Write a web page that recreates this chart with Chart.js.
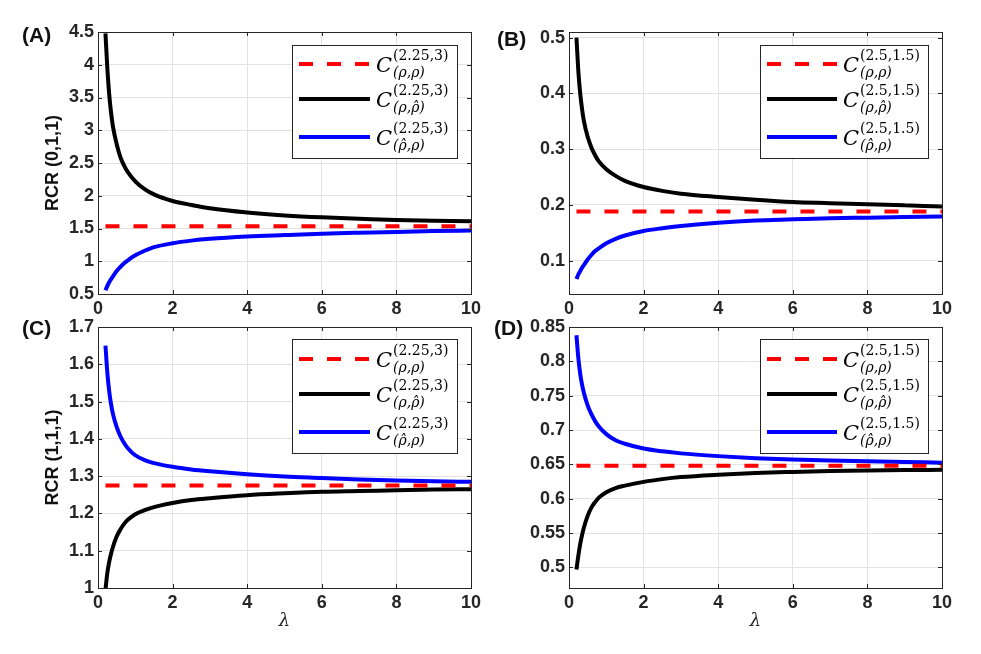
<!DOCTYPE html>
<html>
<head>
<meta charset="utf-8">
<title>RCR vs lambda</title>
<script src="https://cdn.jsdelivr.net/npm/chart.js@4.4.1/dist/chart.umd.min.js"></script>
<style>
  html, body { margin: 0; padding: 0; background: #fff; }
  #wrap { position: relative; width: 981px; height: 654px; }
  #wrap canvas { position: absolute; left: 0; top: 0; }
</style>
</head>
<body>
<div id="wrap">
  <canvas id="chartA" width="981" height="654"></canvas>
  <canvas id="chartB" width="981" height="654"></canvas>
  <canvas id="chartC" width="981" height="654"></canvas>
  <canvas id="chartD" width="981" height="654"></canvas>
</div>
<script>
// lambda values the curves were read at
const lambda = [0.2, 0.25, 0.3, 0.35, 0.4, 0.5, 0.6, 0.7, 0.8, 1, 1.25, 1.5, 2, 2.5, 3, 4, 5, 6, 7, 8, 9, 10];
const lambdaEnds = [0.2, 10];
const xTicks = [0, 2, 4, 6, 8, 10];

// (A) RCR (0,1,1), (2.25,3)
const redA = [1.535, 1.535];
const blackA = [4.48, 3.95, 3.55, 3.27, 3.06, 2.79, 2.59, 2.46, 2.36, 2.22, 2.1, 2.02, 1.92, 1.86, 1.81, 1.745, 1.7, 1.67, 1.65, 1.63, 1.62, 1.61];
const blueA = [0.556, 0.625, 0.68, 0.727, 0.768, 0.85, 0.915, 0.97, 1.015, 1.09, 1.16, 1.215, 1.275, 1.315, 1.343, 1.378, 1.4, 1.42, 1.435, 1.448, 1.46, 1.47];
const yTicksA = [0.5, 1, 1.5, 2, 2.5, 3, 3.5, 4, 4.5];

// (B) RCR (0,1,1), (2.5,1.5)
const redB = [0.188, 0.188];
const blackB = [0.5, 0.44, 0.4, 0.372, 0.35, 0.322, 0.303, 0.289, 0.278, 0.264, 0.252, 0.243, 0.232, 0.225, 0.22, 0.214, 0.209, 0.205, 0.203, 0.201, 0.199, 0.197];
const blueB = [0.067, 0.075, 0.081, 0.087, 0.092, 0.102, 0.11, 0.117, 0.122, 0.131, 0.139, 0.145, 0.153, 0.158, 0.162, 0.168, 0.172, 0.174, 0.176, 0.177, 0.178, 0.179];
const yTicksB = [0.1, 0.2, 0.3, 0.4, 0.5];

// (C) RCR (1,1,1), (2.25,3)
const redC = [1.275, 1.275];
const blackC = [0.995, 1.04, 1.07, 1.092, 1.11, 1.138, 1.157, 1.172, 1.183, 1.198, 1.209, 1.217, 1.228, 1.236, 1.241, 1.249, 1.254, 1.258, 1.26, 1.262, 1.264, 1.265];
const blueC = [1.65, 1.578, 1.528, 1.493, 1.467, 1.432, 1.407, 1.389, 1.375, 1.356, 1.343, 1.335, 1.325, 1.318, 1.313, 1.305, 1.299, 1.295, 1.291, 1.288, 1.286, 1.285];
const yTicksC = [1, 1.1, 1.2, 1.3, 1.4, 1.5, 1.6, 1.7];

// (D) RCR (1,1,1), (2.5,1.5)
const redD = [0.648, 0.648];
const blackD = [0.497, 0.517, 0.534, 0.547, 0.558, 0.575, 0.587, 0.595, 0.6015, 0.6095, 0.6155, 0.619, 0.6245, 0.6285, 0.6315, 0.635, 0.6375, 0.639, 0.6402, 0.6411, 0.6417, 0.642];
const blueD = [0.838, 0.805, 0.782, 0.766, 0.754, 0.736, 0.723, 0.713, 0.705, 0.694, 0.685, 0.68, 0.673, 0.669, 0.666, 0.662, 0.659, 0.657, 0.6555, 0.6545, 0.6535, 0.6525];
const yTicksD = [0.5, 0.55, 0.6, 0.65, 0.7, 0.75, 0.8, 0.85];

// text
const supAC = "(2.25,3)";
const supBD = "(2.5,1.5)";
const subLabels = ["(\u03C1,\u03C1)", "(\u03C1,\u03C1\u0302)", "(\u03C1\u0302,\u03C1)"];
const yTitleTop = "RCR (0,1,1)";
const yTitleBottom = "RCR (1,1,1)";
const xTitle = "\u03BB";

const axisColor = "#262626";
const gridColor = "#e2e2e2";
const tickFont = { family: "'Liberation Sans', Arial, sans-serif", size: 18, weight: "bold" };

// box, inward ticks and panel letter
const axesBox = {
  id: "axesBox",
  afterDraw(chart, args, opts) {
    const { ctx, chartArea: a } = chart;
    const sx = chart.scales.x, sy = chart.scales.y;
    ctx.save();
    ctx.strokeStyle = axisColor;
    ctx.lineWidth = 1;
    ctx.strokeRect(Math.round(a.left) + 0.5, Math.round(a.top) + 0.5,
      Math.round(a.right) - Math.round(a.left), Math.round(a.bottom) - Math.round(a.top));
    ctx.beginPath();
    sx.ticks.forEach(t => {
      const px = Math.round(sx.getPixelForValue(t.value)) + 0.5;
      ctx.moveTo(px, a.bottom); ctx.lineTo(px, a.bottom - 4);
      ctx.moveTo(px, a.top); ctx.lineTo(px, a.top + 4);
    });
    sy.ticks.forEach(t => {
      const py = Math.round(sy.getPixelForValue(t.value)) + 0.5;
      ctx.moveTo(a.left, py); ctx.lineTo(a.left + 4, py);
      ctx.moveTo(a.right, py); ctx.lineTo(a.right - 4, py);
    });
    ctx.stroke();
    ctx.fillStyle = "#111";
    ctx.font = "bold 21px 'Liberation Sans', Arial, sans-serif";
    ctx.textAlign = "left";
    ctx.textBaseline = "middle";
    ctx.fillText(opts.label, opts.labelX, opts.labelY);
    ctx.restore();
  }
};

// legend with the math labels
const mathLegend = {
  id: "mathLegend",
  afterDraw(chart, args, opts) {
    const ctx = chart.ctx;
    ctx.save();
    ctx.fillStyle = "#fff";
    ctx.fillRect(opts.x, opts.y, opts.w, opts.h);
    ctx.strokeStyle = axisColor;
    ctx.lineWidth = 1;
    ctx.strokeRect(opts.x + 0.5, opts.y + 0.5, opts.w, opts.h);
    chart.data.datasets.forEach((ds, i) => {
      const ly = opts.rows[i];
      ctx.beginPath();
      ctx.setLineDash(ds.borderDash || []);
      ctx.strokeStyle = ds.borderColor;
      ctx.lineWidth = ds.borderWidth;
      ctx.moveTo(opts.x0, ly);
      ctx.lineTo(opts.x1, ly);
      ctx.stroke();
      ctx.setLineDash([]);
      ctx.fillStyle = "#000";
      ctx.textAlign = "left";
      ctx.textBaseline = "alphabetic";
      ctx.font = "italic 21px 'DejaVu Serif', serif";
      ctx.fillText("C", opts.tx, ly + 7.5);
      ctx.font = "14px 'DejaVu Serif', serif";
      ctx.fillText(opts.sup, opts.tx + 17, ly - 4);
      ctx.font = "italic 14px 'DejaVu Serif', serif";
      ctx.fillText(subLabels[i], opts.tx + 17, ly + 13);
    });
    ctx.restore();
  }
};

function makePanel(id, p) {
  const pts = (xs, ys) => xs.map((x, i) => ({ x: x, y: ys[i] }));
  new Chart(document.getElementById(id), {
    type: "line",
    data: {
      datasets: [
        { label: "red", data: pts(lambdaEnds, p.red), borderColor: "#ff0000", borderDash: [14, 14], borderWidth: 4, order: 0 },
        { label: "black", data: pts(lambda, p.black), borderColor: "#000000", borderWidth: 4, order: 1 },
        { label: "blue", data: pts(lambda, p.blue), borderColor: "#0000ff", borderWidth: 4, order: 2 }
      ]
    },
    options: {
      responsive: false,
      animation: false,
      events: [],
      layout: { padding: { left: 0, top: p.box.t, right: 981 - p.box.r, bottom: 654 - p.box.b - p.xh } },
      elements: {
        point: { radius: 0 },
        line: { cubicInterpolationMode: "monotone", borderCapStyle: "butt", fill: false }
      },
      plugins: {
        legend: { display: false },
        tooltip: { enabled: false },
        axesBox: { label: p.label, labelX: p.labelX, labelY: p.labelY },
        mathLegend: p.legend
      },
      scales: {
        x: {
          type: "linear",
          min: 0,
          max: 10,
          afterBuildTicks: s => { s.ticks = xTicks.map(v => ({ value: v })); },
          afterFit: s => { s.height = p.xh; },
          grid: { color: gridColor, drawTicks: false },
          border: { color: axisColor },
          ticks: { font: tickFont, color: axisColor, padding: 4, maxRotation: 0, callback: v => String(v) },
          title: {
            display: p.showX,
            text: xTitle,
            color: axisColor,
            font: { family: "'DejaVu Serif', serif", size: 18, style: "italic" },
            padding: { top: 0, bottom: 1 }
          }
        },
        y: {
          type: "linear",
          min: p.yMin,
          max: p.yMax,
          afterBuildTicks: s => { s.ticks = p.yTicks.map(v => ({ value: v })); },
          afterFit: s => { s.width = p.box.l; },
          grid: { color: gridColor, drawTicks: false },
          border: { color: axisColor },
          ticks: { font: tickFont, color: axisColor, padding: 4, callback: v => String(v) },
          title: {
            display: !!p.yTitle,
            text: p.yTitle || "",
            color: "#111",
            font: { family: "'Liberation Sans', Arial, sans-serif", size: 18, weight: "bold" },
            padding: { top: 42, bottom: 0 }
          }
        }
      }
    },
    plugins: [axesBox, mathLegend]
  });
}

makePanel("chartA", {
  red: redA, black: blackA, blue: blueA, yTicks: yTicksA, yMin: 0.5, yMax: 4.5,
  box: { l: 98, t: 32, r: 471, b: 294 }, xh: 26, showX: false, yTitle: yTitleTop,
  label: "(A)", labelX: 22, labelY: 36,
  legend: { x: 292, y: 45, w: 165, h: 113, rows: [64, 99, 137], x0: 299, x1: 370, tx: 376, sup: supAC }
});
makePanel("chartB", {
  red: redB, black: blackB, blue: blueB, yTicks: yTicksB, yMin: 0.04, yMax: 0.51,
  box: { l: 569, t: 32, r: 942, b: 294 }, xh: 26, showX: false, yTitle: null,
  label: "(B)", labelX: 497, labelY: 40,
  legend: { x: 760, y: 45, w: 168, h: 113, rows: [64, 99, 137], x0: 767, x1: 837, tx: 843, sup: supBD }
});
makePanel("chartC", {
  red: redC, black: blackC, blue: blueC, yTicks: yTicksC, yMin: 1, yMax: 1.7,
  box: { l: 98, t: 327, r: 471, b: 588 }, xh: 45, showX: true, yTitle: yTitleBottom,
  label: "(C)", labelX: 22, labelY: 329,
  legend: { x: 292, y: 339, w: 165, h: 114, rows: [359, 394, 432], x0: 299, x1: 370, tx: 376, sup: supAC }
});
makePanel("chartD", {
  red: redD, black: blackD, blue: blueD, yTicks: yTicksD, yMin: 0.47, yMax: 0.85,
  box: { l: 569, t: 327, r: 942, b: 588 }, xh: 45, showX: true, yTitle: null,
  label: "(D)", labelX: 494, labelY: 329,
  legend: { x: 760, y: 339, w: 168, h: 114, rows: [359, 394, 432], x0: 767, x1: 837, tx: 843, sup: supBD }
});
</script>
</body>
</html>
